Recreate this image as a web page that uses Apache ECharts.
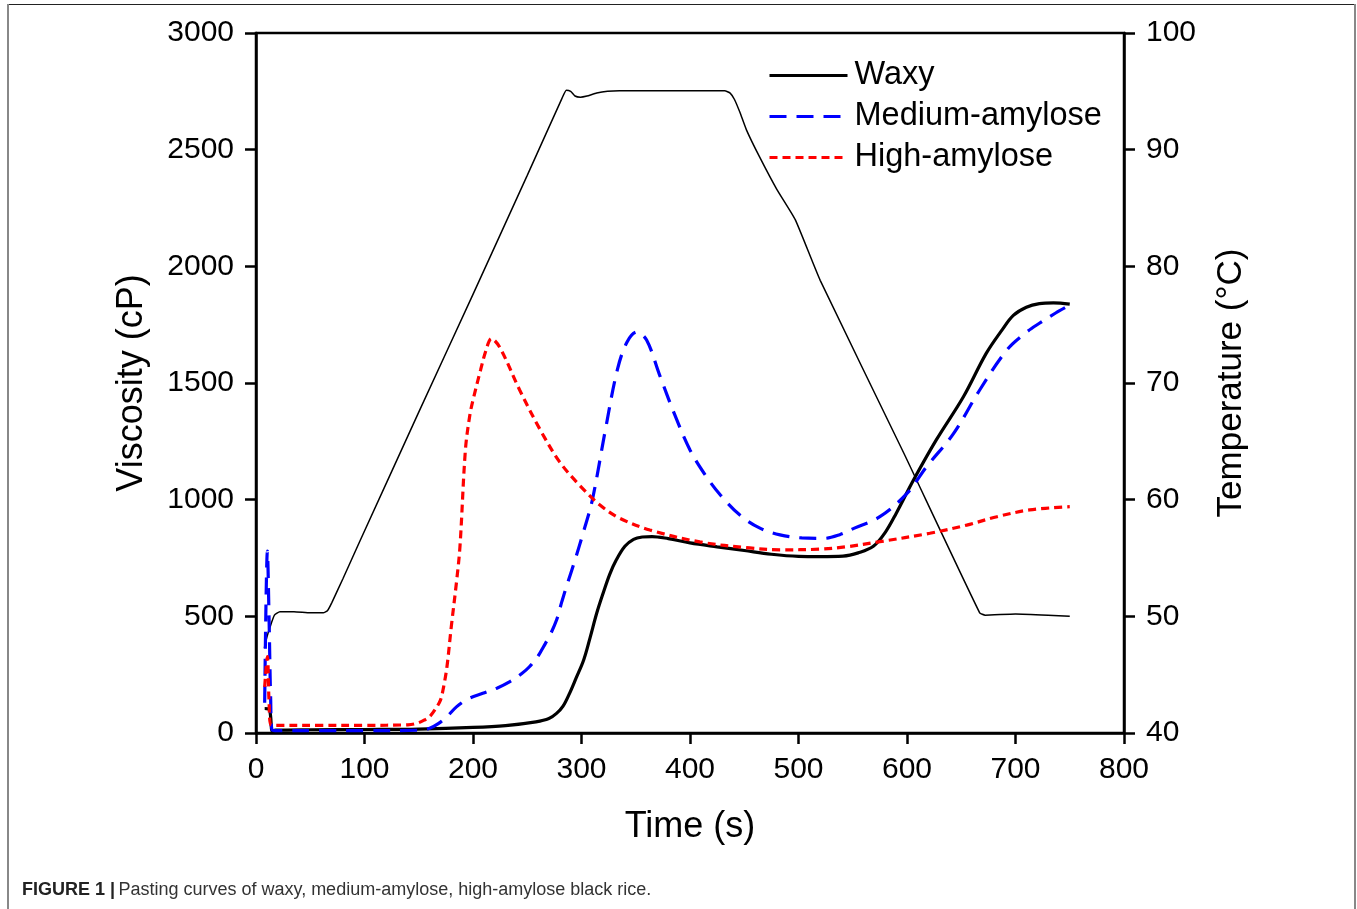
<!DOCTYPE html>
<html>
<head>
<meta charset="utf-8">
<title>Pasting curves of black rice</title>
<script src="https://cdn.jsdelivr.net/npm/echarts@6/dist/echarts.min.js"></script>
<style>
  html, body { margin: 0; padding: 0; background: #fff; }
  #chart { width: 1357px; height: 909px; }
</style>
</head>
<body>
<div id="chart"></div>
<script>
// Pasting (RVA) curves: viscosity in cP against time in s, plus the temperature profile.
var seriesNames = ['Waxy', 'Medium-amylose', 'High-amylose'];

var waxy = [
  [8, 105], [12, 102], [13.5, 70], [15, 8], [18, 12], [50, 14], [100, 15], [150, 17],
  [200, 24], [230, 32], [258, 48], [270, 62], [277, 84], [283, 115], [289, 170],
  [295, 235], [302, 313], [308, 410], [314, 513], [320, 600], [326, 680], [332, 741],
  [340, 800], [348, 830], [356, 840], [365, 842], [380, 833], [400, 815], [425, 798],
  [450, 782], [475, 766], [500, 757], [520, 756], [541, 758], [555, 772], [569, 800],
  [580, 860], [590, 941], [606, 1084], [627, 1256], [652, 1441], [673, 1627],
  [688, 1730], [698, 1790], [710, 1825], [722, 1840], [735, 1843], [750, 1838]
];

var mediumAmylose = [
  [8, 130], [10.5, 780], [12, 500], [13.5, 150], [15, 12], [20, 10], [60, 10], [100, 10],
  [150, 12], [160, 20], [168, 40], [176, 70], [185, 113], [195, 145], [209, 170],
  [222, 192], [234, 220], [245, 255], [252, 284], [260, 330], [265, 370], [271, 420],
  [277, 484], [282, 565], [287, 640], [294, 741], [302, 865], [310, 999],
  [322, 1299], [333, 1556], [342, 1676], [351, 1719], [360, 1684], [372, 1534],
  [386, 1363], [400, 1213], [414, 1106], [428, 1020], [446, 934], [464, 879],
  [483, 849], [503, 836], [523, 834], [538, 850], [551, 877], [575, 927], [600, 1027],
  [618, 1141], [643, 1284], [667, 1470], [692, 1641], [708, 1710], [722, 1756],
  [737, 1800], [750, 1834]
];

var highAmylose = [
  [8, 198], [10.5, 327], [12, 141], [14, 34], [20, 33], [60, 33], [100, 33], [140, 35],
  [148, 41], [155, 55], [160, 70], [165, 100], [170, 141], [173, 200], [176, 284],
  [180, 456], [185, 656], [188, 800], [193, 1213], [197, 1360], [200, 1427],
  [207, 1556], [212, 1640], [217, 1690], [225, 1650], [243, 1470], [262, 1299],
  [280, 1161], [298, 1063], [317, 977], [335, 921], [363, 870], [409, 819], [455, 793],
  [483, 785], [520, 788], [544, 798], [575, 820], [621, 856], [655, 891], [683, 927],
  [713, 956], [750, 970]
];

var temperature = [
  [7.7, 47.3], [10, 48.2], [13, 49.1], [17, 50.1], [22, 50.4], [35, 50.4], [50, 50.3],
  [62, 50.3], [66, 50.5], [70, 51.2], [80, 53.2], [96, 56.5], [150, 67.5], [200, 77.6],
  [250, 87.8], [282, 94.4], [286, 95.1], [290, 95.0], [294, 94.6], [299, 94.5],
  [305, 94.6], [314, 94.85], [324, 95.0], [335, 95.05], [400, 95.05], [432, 95.05],
  [437, 94.85], [441, 94.3], [446, 93.2], [452, 91.7], [464, 89.4], [480, 86.6],
  [497, 84.0], [520, 78.8], [597, 64.0], [667, 50.3], [672, 50.1], [700, 50.2],
  [730, 50.1], [750, 50.0]
];

var xTicks = { min: 0, max: 800, step: 100 };
var viscTicks = { min: 0, max: 3000, step: 500 };
var tempTicks = { min: 40, max: 100, step: 10 };

var FONT = 'Liberation Sans, Arial, Helvetica, sans-serif';

var chart = echarts.init(document.getElementById('chart'), null, { renderer: 'canvas' });

var axisLineStyle = { color: '#000', width: 2.5 };
var plainNumber = function (v) { return String(v); };

chart.setOption({
  backgroundColor: '#fff',
  animation: false,
  grid: {
    left: 256, right: 233, top: 33, bottom: 176,
    show: true, borderColor: '#000', borderWidth: 2.5, backgroundColor: 'transparent'
  },
  legend: {
    data: seriesNames,
    orient: 'vertical',
    left: 763,
    top: 54,
    itemWidth: 78,
    itemHeight: 14,
    itemGap: 8,
    itemStyle: { opacity: 0 },
    lineStyle: { width: 3 },
    textStyle: { fontFamily: FONT, fontSize: 32.5, color: '#000', lineHeight: 32, padding: [0, 0, 0, 2] }
  },
  xAxis: {
    type: 'value',
    min: xTicks.min, max: xTicks.max, interval: xTicks.step,
    name: 'Time (s)',
    nameLocation: 'middle',
    nameGap: 76,
    nameTextStyle: { fontFamily: FONT, fontSize: 36, color: '#000' },
    axisLine: { show: true, onZero: false, lineStyle: axisLineStyle },
    axisTick: { show: true, inside: false, length: 11, lineStyle: axisLineStyle },
    axisLabel: { fontFamily: FONT, fontSize: 30, color: '#000', margin: 22, formatter: plainNumber },
    splitLine: { show: false }
  },
  yAxis: [
    {
      type: 'value', position: 'left',
      min: viscTicks.min, max: viscTicks.max, interval: viscTicks.step,
      name: 'Viscosity (cP)',
      nameLocation: 'middle',
      nameGap: 106,
      nameTextStyle: { fontFamily: FONT, fontSize: 36, color: '#000' },
      axisLine: { show: true, onZero: false, lineStyle: axisLineStyle },
      axisTick: { show: true, inside: false, length: 11, lineStyle: axisLineStyle },
      axisLabel: { fontFamily: FONT, fontSize: 30, color: '#000', margin: 22, formatter: plainNumber },
      splitLine: { show: false }
    },
    {
      type: 'value', position: 'right',
      min: tempTicks.min, max: tempTicks.max, interval: tempTicks.step,
      name: 'Temperature (\u00B0C)',
      nameLocation: 'middle',
      nameGap: 90,
      nameTextStyle: { fontFamily: FONT, fontSize: 35, color: '#000' },
      axisLine: { show: true, onZero: false, lineStyle: axisLineStyle },
      axisTick: { show: true, inside: false, length: 11, lineStyle: axisLineStyle },
      axisLabel: { fontFamily: FONT, fontSize: 30, color: '#000', margin: 22, formatter: plainNumber },
      splitLine: { show: false }
    }
  ],
  series: [
    {
      name: 'Temperature', type: 'line', yAxisIndex: 1, data: temperature,
      symbol: 'none', smooth: 0.15, z: 2,
      lineStyle: { color: '#000', width: 1.5 }
    },
    {
      name: seriesNames[0], type: 'line', data: waxy,
      symbol: 'none', smooth: 0.35, z: 3,
      lineStyle: { color: '#000', width: 3.2 }, itemStyle: { color: '#000' }
    },
    {
      name: seriesNames[1], type: 'line', data: mediumAmylose,
      symbol: 'none', smooth: 0.35, z: 4,
      lineStyle: { color: '#0000ff', width: 3.2, type: [17, 10] }, itemStyle: { color: '#0000ff' }
    },
    {
      name: seriesNames[2], type: 'line', data: highAmylose,
      symbol: 'none', smooth: 0.35, z: 5,
      lineStyle: { color: '#ff0000', width: 3.2, type: [8, 5] }, itemStyle: { color: '#ff0000' }
    }
  ],
  graphic: [
    // figure frame
    { type: 'line', silent: true, shape: { x1: 8, y1: 4.5, x2: 1355, y2: 4.5 }, style: { stroke: '#222', lineWidth: 1.2 } },
    { type: 'line', silent: true, shape: { x1: 8, y1: 4, x2: 8, y2: 909 }, style: { stroke: '#888', lineWidth: 2 } },
    { type: 'line', silent: true, shape: { x1: 1355, y1: 4, x2: 1355, y2: 909 }, style: { stroke: '#888', lineWidth: 2 } },
    // caption
    {
      type: 'text', left: 22, top: 881, silent: true,
      style: {
        text: '{b|FIGURE 1 |} {n|Pasting curves of waxy, medium-amylose, high-amylose black rice.}',
        rich: {
          b: { fontFamily: FONT, fontSize: 18, fontWeight: 'bold', fill: '#222' },
          n: { fontFamily: FONT, fontSize: 18, fill: '#333' }
        }
      }
    }
  ]
});
</script>
</body>
</html>
